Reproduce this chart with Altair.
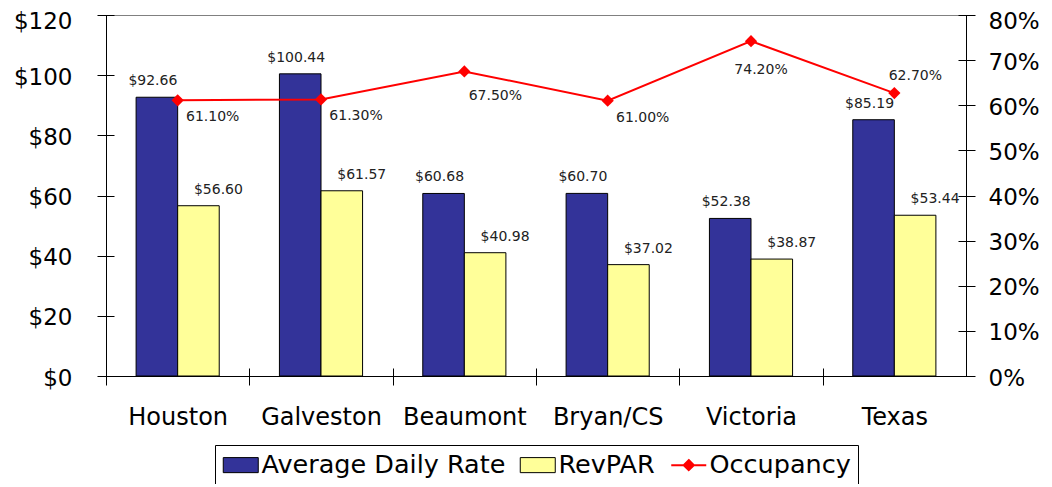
import altair as alt
import pandas as pd

# ---- data ----
cities = ["Houston", "Galveston", "Beaumont", "Bryan/CS", "Victoria", "Texas"]
adr = [92.66, 100.44, 60.68, 60.70, 52.38, 85.19]
revpar = [56.60, 61.57, 40.98, 37.02, 38.87, 53.44]
occupancy = [61.1, 61.3, 67.5, 61.0, 74.2, 62.7]
series_names = ["Average Daily Rate", "RevPAR", "Occupancy"]
series_colors = ["#333399", "#FFFF99", "#FF0000"]
left_ticks = [0, 20, 40, 60, 80, 100, 120]
right_ticks = [0, 10, 20, 30, 40, 50, 60, 70, 80]

bars_df = pd.DataFrame({
    "city": cities * 2,
    "series": [series_names[0]] * len(cities) + [series_names[1]] * len(cities),
    "value": adr + revpar,
})
occ_df = pd.DataFrame({"city": cities, "occ": occupancy})

FONT = "DejaVu Sans"
LABEL_COLOR = "#222222"
W, H = 860, 361
HALF_STEP = W / len(cities) / 2

x_main = alt.X(
    "city:N", sort=cities,
    scale=alt.Scale(paddingInner=0.42, paddingOuter=0.21),
    axis=alt.Axis(title=None, orient="bottom", offset=-8, tickSize=17, domain=False,
                  tickOffset=-HALF_STEP, labelOffset=HALF_STEP, labelPadding=20,
                  labelFontSize=24, labelFont=FONT, labelColor="black",
                  tickColor="black", labelAngle=0),
)
x_plain = alt.X("city:N", sort=cities)
xoff = alt.XOffset("series:N", sort=series_names[:2],
                   scale=alt.Scale(domain=series_names[:2], paddingInner=0, paddingOuter=0))

y_left = alt.Y(
    "value:Q",
    scale=alt.Scale(domain=[0, 120], nice=False),
    axis=alt.Axis(title=None, orient="left", values=left_ticks,
                  labelExpr="'$' + datum.label", offset=-8, tickSize=17, domain=False,
                  labelPadding=25,
                  labelOffset={"condition": {"test": "datum.value === 120", "value": 6}, "value": 2},
                  labelFontSize=23, labelFont=FONT,
                  labelColor="black", tickColor="black", grid=True, gridColor="#808080",
                  gridOpacity={"condition": {"test": "datum.value === 120", "value": 1}, "value": 0}),
)
y_left_plain = alt.Y("value:Q", scale=alt.Scale(domain=[0, 120], nice=False), axis=None)

legend = alt.Legend(
    title=None, orient="none", legendX=109, legendY=430, direction="horizontal",
    symbolType={"expr": "datum.value === 'Occupancy' ? 'M-1,0H1M0,-0.29L0.29,0L0,0.29L-0.29,0Z' : 'M-1,-0.43H1V0.43H-1Z'"},
    symbolSize=1225, symbolOffset=6,
    symbolStrokeColor={"expr": "datum.value === 'Occupancy' ? '#FF0000' : '#000000'"},
    symbolStrokeWidth={"expr": "datum.value === 'Occupancy' ? 2 : 1"},
    symbolOpacity=1,
    labelFont=FONT, labelFontSize=25.5, labelColor="black", labelOffset=8, labelLimit=400,
    columnPadding=12, padding=7, strokeColor="black", fillColor="white",
)

bars = alt.Chart(bars_df).mark_bar(stroke="black", strokeWidth=1).encode(
    x=x_main,
    xOffset=xoff,
    y=y_left,
    color=alt.Color("series:N", scale=alt.Scale(domain=series_names, range=series_colors),
                    legend=legend),
)

bar_base = alt.Chart(bars_df).transform_calculate(
    label="'$' + format(datum.value, '.2f')"
)
adr_text = bar_base.transform_filter(alt.datum.series == series_names[0]).mark_text(
    dx=-4, dy=-16, baseline="middle", fontSize=14, font=FONT, color=LABEL_COLOR
).encode(x=x_plain, xOffset=xoff, y=y_left_plain, text="label:N")
rev_text = bar_base.transform_filter(alt.datum.series == series_names[1]).mark_text(
    dx=20, dy=-16, baseline="middle", fontSize=14, font=FONT, color=LABEL_COLOR
).encode(x=x_plain, xOffset=xoff, y=y_left_plain, text="label:N")

y_right = alt.Y(
    "occ:Q",
    scale=alt.Scale(domain=[0, 80], nice=False),
    axis=alt.Axis(title=None, orient="right", values=right_ticks,
                  labelExpr="datum.value + '%'", offset=-8, tickSize=17, domain=False,
                  labelPadding=13,
                  labelOffset={"condition": {"test": "datum.value === 80", "value": 6}, "value": 2},
                  labelFontSize=23, labelFont=FONT,
                  labelColor="black", tickColor="black", grid=False),
)
y_right_plain = alt.Y("occ:Q", scale=alt.Scale(domain=[0, 80], nice=False), axis=None)

occ_base = alt.Chart(occ_df)
occ_line = occ_base.mark_line(color="#FF0000", strokeWidth=2).encode(x=x_plain, y=y_right)
occ_pts = occ_base.mark_point(shape="diamond", filled=True, size=150, color="#FF0000",
                              opacity=1).encode(x=x_plain, y=y_right_plain)


def occ_label(subset, dx, dy):
    return occ_base.transform_filter(
        alt.FieldOneOfPredicate(field="city", oneOf=subset)
    ).transform_calculate(
        label="format(datum.occ, '.2f') + '%'"
    ).mark_text(dx=dx, dy=dy, baseline="middle", fontSize=14, font=FONT,
                color=LABEL_COLOR).encode(x=x_plain, y=y_right_plain, text="label:N")


chart = alt.layer(
    bars, adr_text, rev_text,
    occ_line, occ_pts,
    occ_label(["Houston", "Galveston", "Bryan/CS"], 35, 17),
    occ_label(["Beaumont"], 31, 25),
    occ_label(["Victoria"], 10, 29),
    occ_label(["Texas"], 21, -17),
).resolve_scale(y="independent").properties(
    width=W, height=H,
    padding={"left": 98, "top": 7, "right": 78, "bottom": 108},
    autosize=alt.AutoSizeParams(type="none"),
    background="white",
).configure_view(stroke="black", strokeWidth=1)

chart.save("out.html", embed_options={"renderer": "svg", "actions": False})
